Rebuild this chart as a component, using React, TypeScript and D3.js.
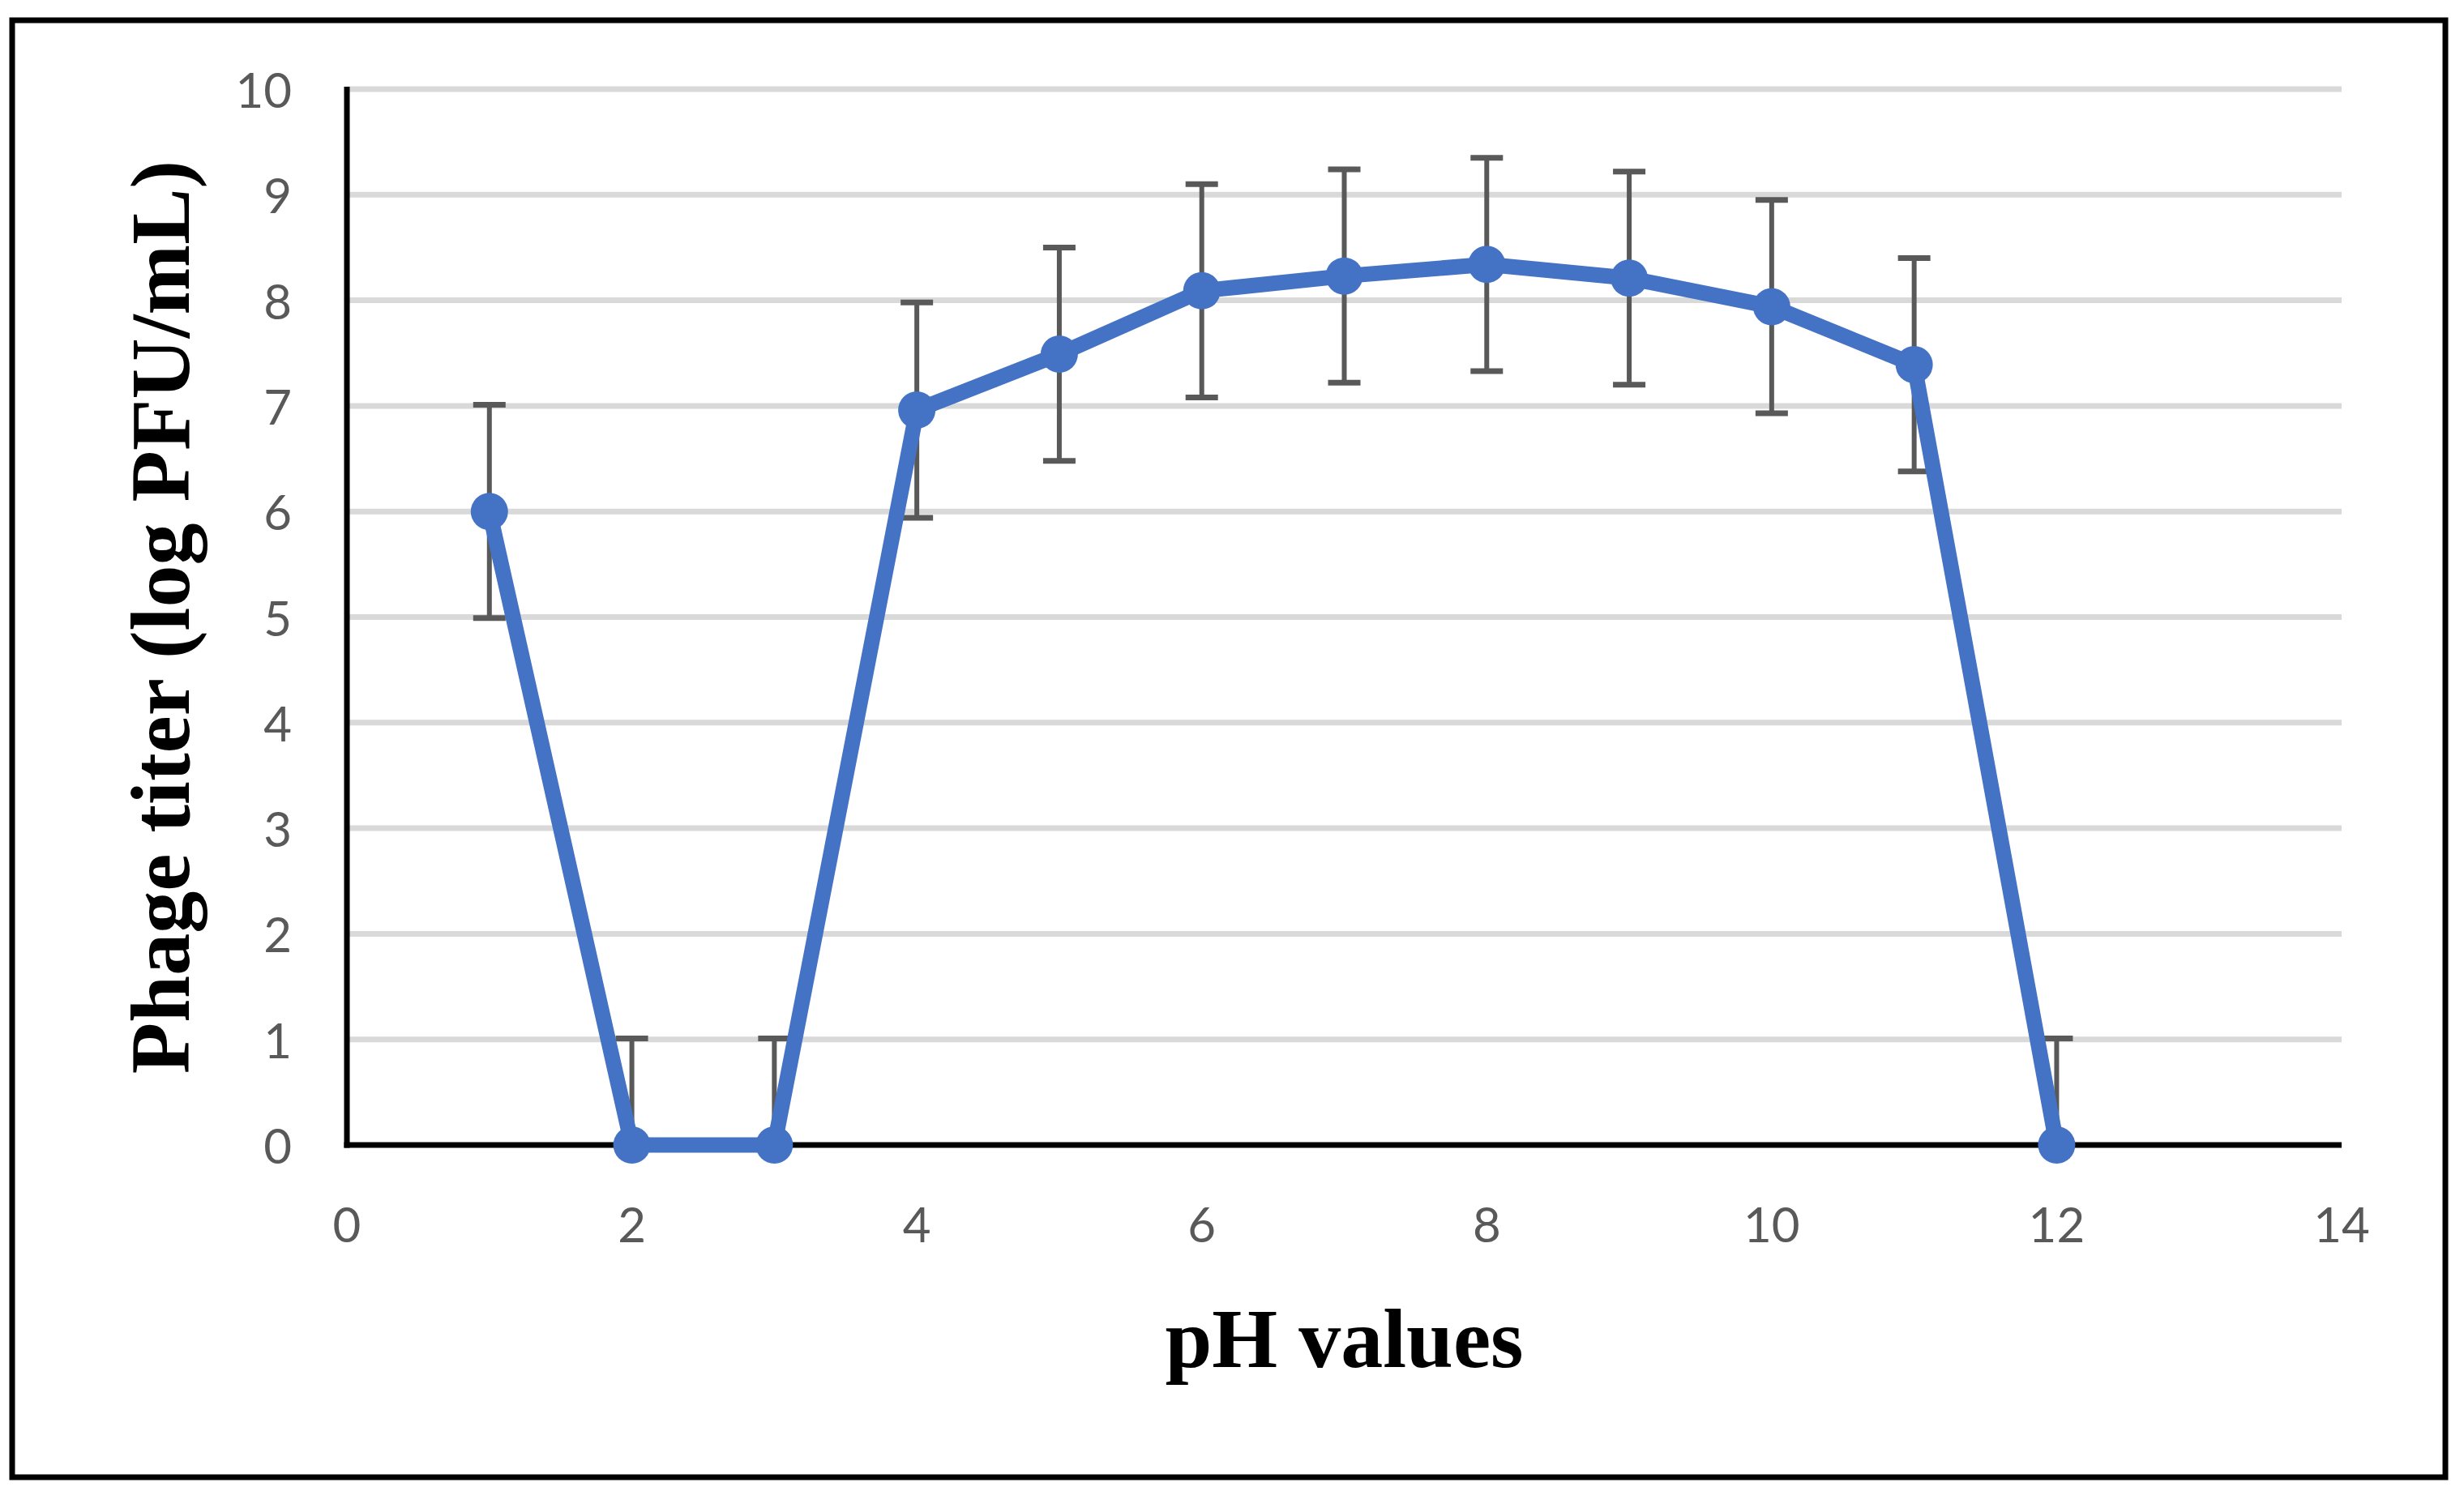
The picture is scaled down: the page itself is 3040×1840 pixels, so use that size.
import React from "react";
import * as d3 from "d3";

const phValues = [1, 2, 3, 4, 5, 6, 7, 8, 9, 10, 11, 12];
const titers = [6.0, 0, 0, 6.96, 7.49, 8.09, 8.23, 8.34, 8.21, 7.94, 7.39, 0];
const errors = [1.01, 1.01, 1.01, 1.02, 1.01, 1.01, 1.01, 1.01, 1.01, 1.01, 1.01, 1.01];
const xTicks = [0, 2, 4, 6, 8, 10, 12, 14];
const yTicks = [0, 1, 2, 3, 4, 5, 6, 7, 8, 9, 10];
const xTitle = "pH values";
const yTitle = "Phage titer (log PFU/mL)";

const W = 3040;
const H = 1840;
const left = 428;
const right = 2889;
const top = 110;
const bottom = 1413;

export default function App() {
  const x = d3.scaleLinear().domain([0, 14]).range([left, right]);
  const y = d3.scaleLinear().domain([0, 10]).range([bottom, top]);
  const pts = phValues.map((p, i) => ({ p, v: titers[i], e: errors[i] }));
  const line = d3
    .line<{ p: number; v: number }>()
    .x((d) => x(d.p))
    .y((d) => y(d.v));
  const clamp = (v: number) => Math.max(0, Math.min(10, v));
  const tickFont = "Lato, 'Open Sans', sans-serif";
  const titleFont = "'Liberation Serif', 'DejaVu Serif', serif";

  return (
    <svg
      width={W}
      height={H}
      viewBox={`0 0 ${W} ${H}`}
      style={{ position: "absolute", left: 0, top: 0, background: "#fff" }}
    >
      <rect x={0} y={0} width={W} height={H} fill="#fff" />
      <rect x={15} y={25} width={3002} height={1798} fill="none" stroke="#000" strokeWidth={7} />
      {yTicks
        .filter((t) => t > 0)
        .map((t) => (
          <line key={"g" + t} x1={left} x2={right} y1={y(t)} y2={y(t)} stroke="#d9d9d9" strokeWidth={7} />
        ))}
      <line x1={left} x2={left} y1={top - 3} y2={bottom + 3.5} stroke="#000" strokeWidth={7} />
      <line x1={left - 3.5} x2={right} y1={bottom} y2={bottom} stroke="#000" strokeWidth={7} />
      {yTicks.map((t) => (
        <text
          key={"yt" + t}
          x={360}
          y={y(t)}
          textAnchor="end"
          dominantBaseline="central"
          fontFamily={tickFont}
          fontSize={60}
          fill="#595959"
        >
          {t}
        </text>
      ))}
      {xTicks.map((t) => (
        <text
          key={"xt" + t}
          x={x(t)}
          y={1510}
          textAnchor="middle"
          dominantBaseline="central"
          fontFamily={tickFont}
          fontSize={60}
          fill="#595959"
        >
          {t}
        </text>
      ))}
      {pts.map((d, i) => {
        const y1 = y(clamp(d.v - d.e));
        const y2 = y(clamp(d.v + d.e));
        const cx = x(d.p);
        return (
          <g key={"e" + i} stroke="#595959" strokeWidth={6}>
            <line x1={cx} x2={cx} y1={y1} y2={y2} />
            <line x1={cx - 20} x2={cx + 20} y1={y2} y2={y2} strokeWidth={7} />
            {d.v - d.e > 0 && <line x1={cx - 20} x2={cx + 20} y1={y1} y2={y1} strokeWidth={7} />}
          </g>
        );
      })}
      <path d={line(pts) || ""} fill="none" stroke="#4472C4" strokeWidth={19} strokeLinejoin="round" />
      {pts.map((d, i) => (
        <circle key={"c" + i} cx={x(d.p)} cy={y(d.v)} r={23} fill="#4472C4" />
      ))}
      <text
        x={(left + right) / 2}
        y={1687}
        textAnchor="middle"
        fontFamily={titleFont}
        fontWeight="bold"
        fontSize={104}
        fill="#000"
      >
        {xTitle}
      </text>
      <text
        transform={`translate(233, ${(top + bottom) / 2}) rotate(-90)`}
        textAnchor="middle"
        fontFamily={titleFont}
        fontWeight="bold"
        fontSize={104}
        fill="#000"
      >
        {yTitle}
      </text>
    </svg>
  );
}
